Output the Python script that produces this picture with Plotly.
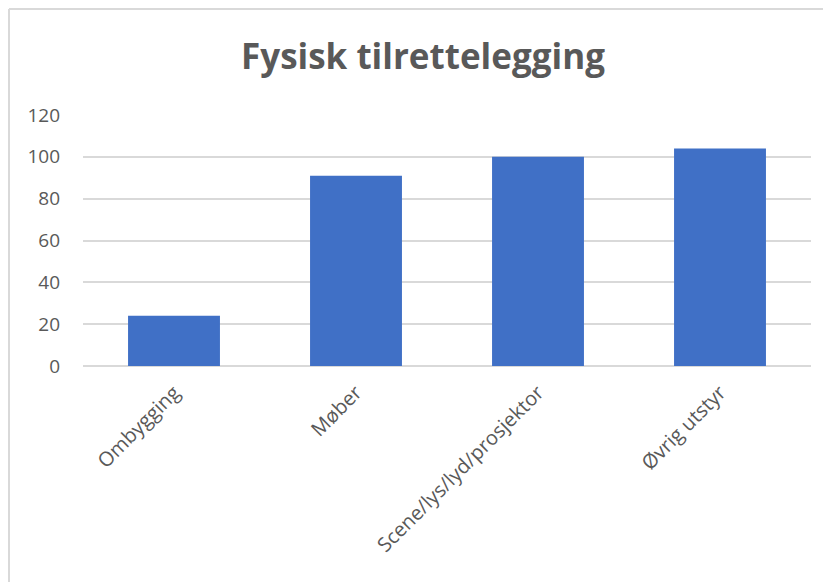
import plotly.graph_objects as go

categories = ["Ombygging", "Møber", "Scene/lys/lyd/prosjektor", "Øvrig utstyr"]
values = [24, 91, 100, 104]
y_ticks = [0, 20, 40, 60, 80, 100, 120]

# page body has an 8px margin, so the figure is placed at (8, 8)
OFF = 8
W, H = 831 - OFF, 582 - OFF
L, T = 83 - OFF, 115 - OFF
R = W - (811 - OFF)
B = H - (366 - OFF)

fig = go.Figure(go.Bar(
    x=categories, y=values,
    marker=dict(color="#4070C6", line=dict(width=0)),
    width=0.505,
))

pw = W - L - R
ph = H - T - B

border_x = (1.0 - L) / pw
border_y = (H - B - (9 - OFF)) / ph

fig.update_layout(
    width=W, height=H,
    margin=dict(l=L, r=R, t=T, b=B, autoexpand=False),
    paper_bgcolor="white", plot_bgcolor="white",
    showlegend=False,
    font=dict(family="Open Sans, sans-serif", color="#595959", size=19),
    title=dict(text="<b>Fysisk tilrettelegging</b>", x=((423 - OFF) / W), xanchor="center",
               y=1 - (57 - OFF) / H, yanchor="middle",
               font=dict(size=35, color="#595959", family="Open Sans, sans-serif")),
    xaxis=dict(showgrid=False, showline=False, ticks="", tickangle=-45,
               tickfont=dict(size=20, color="#595959"), ticklabelstandoff=10,
               zeroline=False),
    yaxis=dict(range=[0, 120], tickvals=y_ticks, showgrid=True, gridcolor="#D9D9D9",
               gridwidth=1.5, zeroline=True, zerolinecolor="#D9D9D9", zerolinewidth=1.5,
               showline=False, ticks="", tickfont=dict(size=19, color="#595959"),
               ticklabelstandoff=22),
    shapes=[
        dict(type="line", xref="paper", yref="paper",
             x0=border_x, x1=1.5, y0=border_y, y1=border_y,
             line=dict(color="#D9D9D9", width=2)),
        dict(type="line", xref="paper", yref="paper",
             x0=border_x, x1=border_x, y0=border_y, y1=-1.5,
             line=dict(color="#D9D9D9", width=2)),
    ],
)

fig.write_html("out.html")
